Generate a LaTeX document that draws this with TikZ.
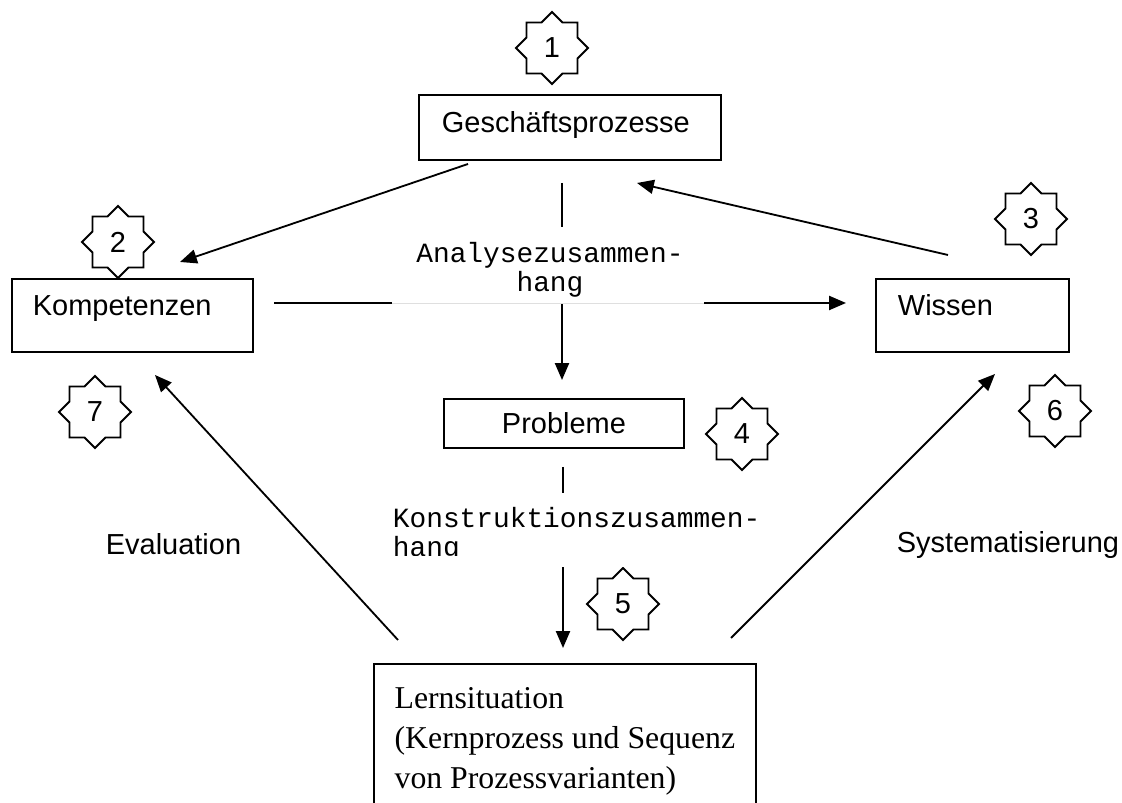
\documentclass[tikz,border=0pt]{standalone}
\usepackage{fontspec}
\setmainfont{Liberation Serif}
\newfontfamily\sansarial{Liberation Sans}
\newfontfamily\monocourier{Liberation Mono}
\usepackage{tikz}
\usetikzlibrary{arrows.meta,shapes.geometric}
\newcommand{\arialtext}{\sansarial\fontsize{20.6pt}{24.7pt}\selectfont}
\newcommand{\couriertext}{\monocourier\fontsize{19.8pt}{21.3pt}\selectfont}
\newcommand{\timestext}{\rmfamily\fontsize{22.6pt}{28.45pt}\selectfont}

\begin{document}
\begin{tikzpicture}[line width=1.3pt,
		box/.style={draw, anchor=north west, inner ysep=0pt, align=left, font=\arialtext},
		star8/.style={draw, star, star points=8, star point ratio=1.307, minimum size=1.8cm, inner sep=0pt, font=\arialtext},
		lab/.style={anchor=base west, inner sep=0pt, font=\arialtext},
		mono/.style={inner sep=0pt, font=\couriertext},
		arr/.style={-{Triangle[length=12pt,width=10pt]}}]
		\useasboundingbox (0,0) rectangle (28.05,20.075);
		
		% Kaesten
		\node[box, text width=6.4cm, text height=0.95cm, text depth=0.675cm, inner xsep=0.575cm] (geschaeft) at (10.45,17.725) {Geschäftsprozesse};
		\node[box, text width=4.975cm, text height=0.925cm, text depth=0.9cm, inner xsep=0.525cm] (kompetenz) at (0.275,13.125) {Kompetenzen};
		\node[box, text width=3.725cm, text height=0.925cm, text depth=0.9cm, inner xsep=0.55cm] (wissen) at (21.875,13.125) {Wissen};
		\node[box, align=center, text width=5.4cm, text height=0.875cm, text depth=0.35cm, inner xsep=0.3cm] (probleme) at (11.075,10.125) {Probleme};
		\node[draw, anchor=north west, align=left, minimum width=9.55cm, inner xsep=0pt, inner ysep=0.58cm, font=\timestext] (lern) at (9.325,3.5) {Lernsituation\\(Kernprozess und Sequenz\\von Prozessvarianten)};
		
		\node[lab] (evaluation) at (2.625,6.2) {Evaluation};
		\node[lab] (systematisierung) at (22.4,6.25) {Systematisierung};
		
		\foreach \n/\x/\y in {1/13.8/18.875, 2/2.95/14.025, 3/25.775/14.6, 4/18.55/9.225, 5/15.575/4.975, 6/26.375/9.8, 7/2.375/9.775}
		\node[star8] (stern\n) at (\x,\y) {\n};
		
		% Enden der Pfeile
		\coordinate (gk-a) at (11.7,15.975);
		\coordinate (gk-b) at (4.5,13.525);
		\coordinate (wg-a) at (23.7,13.7);
		\coordinate (wg-b) at (15.925,15.5);
		\coordinate (gp-a) at (14.05,15.5);
		\coordinate (gp-b) at (14.05,10.575);
		\coordinate (kw-a) at (6.85,12.5);
		\coordinate (kw-b) at (21.15,12.5);
		\coordinate (pl-a) at (14.075,8.4);
		\coordinate (pl-b) at (14.075,3.875);
		\coordinate (lk-a) at (9.95,4.075);
		\coordinate (lk-b) at (3.875,10.7);
		\coordinate (lw-a) at (18.275,4.125);
		\coordinate (lw-b) at (24.875,10.725);
		
		\draw[arr] (gk-a) -- (gk-b);
		\draw[arr] (wg-a) -- (wg-b);
		\draw[arr] (gp-a) -- (gp-b);
		\draw[arr] (kw-a) -- (kw-b);
		\draw[arr] (pl-a) -- (pl-b);
		\draw[arr] (lk-a) -- (lk-b);
		\draw[arr] (lw-a) -- (lw-b);
		
		% Textfelder
		\fill[white] (9.8,12.47) rectangle (17.6,14.4);
		\begin{scope}
			\clip (9.8,12.525) rectangle (17.6,14.4);
			\node[mono, align=center, anchor=base] (analyse) at (13.75,12.775) {Analysezusammen-\\hang};
		\end{scope}
		\draw[line width=0.4pt, gray!25] (9.8,12.5) -- (17.6,12.5);
		
		\fill[white] (9.5,5.9) rectangle (19.75,7.75);
		\begin{scope}
			\clip (9.5,6.175) rectangle (19.75,7.75);
			\node[mono, align=left, anchor=base west] (konstruktion) at (9.8,6.15) {Konstruktionszusammen-\\hang};
		\end{scope}
	\end{tikzpicture}
\end{document}
